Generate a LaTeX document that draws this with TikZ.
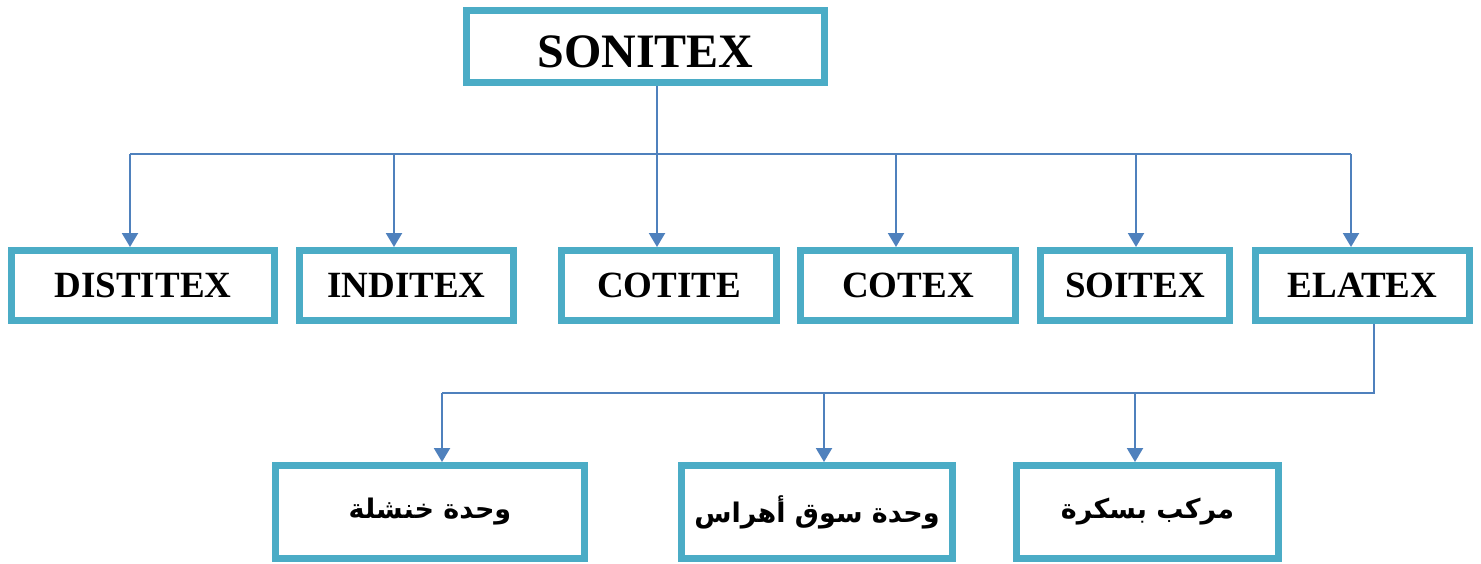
\documentclass[tikz,border=0pt]{standalone}
\usepackage{fontspec}
\setmainfont{Liberation Serif}
\newfontfamily\arabicfont[Script=Arabic]{DejaVu Sans}
\TeXXeTstate=1
\usetikzlibrary{arrows.meta}
\definecolor{boxcol}{HTML}{4BACC6}
\definecolor{linecol}{HTML}{4F81BD}
\tikzset{
  orgbox/.style={draw=boxcol, line width=7pt, fill=white, rectangle, inner sep=0pt, font=\bfseries},
  conn/.style={draw=linecol, line width=2.2pt},
  arr/.style={conn, -{Triangle[width=16pt,length=14pt]}},
}
\begin{document}
\begin{tikzpicture}[x=1pt,y=-1pt]
\useasboundingbox (0,0) rectangle (1481,563);
% top
\node[orgbox, minimum width=358pt, minimum height=72pt, font=\bfseries\fontsize{48pt}{50pt}\selectfont, text height=42pt, text depth=0pt] (soni) at (645.5,46.5) {SONITEX};
% row 2
\tikzset{r2/.style={orgbox, minimum height=70pt, font=\bfseries\fontsize{37pt}{40pt}\selectfont}}
\node[r2, minimum width=263pt] (dist) at (143,285.5) {DISTITEX};
\node[r2, minimum width=214pt] (indi) at (406.5,285.5) {INDITEX};
\node[r2, minimum width=215pt] (coti) at (669,285.5) {COTITE};
\node[r2, minimum width=215pt] (cotex) at (908,285.5) {COTEX};
\node[r2, minimum width=189pt] (soit) at (1135,285.5) {SOITEX};
\node[r2, minimum width=214pt] (ela) at (1362.5,285.5) {ELATEX};
% row 3
\tikzset{r3/.style={orgbox, minimum height=93pt, font=\arabicfont\bfseries\fontsize{27pt}{32pt}\selectfont}}
\node[r3, minimum width=309pt] (khen) at (430,512) {\beginR وحدة خنشلة\endR};
\node[r3, minimum width=271pt] (souk) at (817,512) {\beginR وحدة سوق أهراس\endR};
\node[r3, minimum width=262pt] (bisk) at (1147.5,512) {\beginR مركب بسكرة\endR};
% bus 1
\coordinate (stem) at (657,154);
\coordinate (bL) at (130,154);
\coordinate (bR) at (1351,154);
\coordinate (b2) at (394,154);
\coordinate (b3) at (657,154);
\coordinate (b4) at (896,154);
\coordinate (b5) at (1136,154);
\draw[conn] (stem |- soni.south) -- (stem);
\draw[conn] (bL) -- (bR);
\draw[arr] (bL) -- (bL |- dist.north);
\draw[arr] (b2) -- (b2 |- indi.north);
\draw[arr] (b3) -- (b3 |- coti.north);
\draw[arr] (b4) -- (b4 |- cotex.north);
\draw[arr] (b5) -- (b5 |- soit.north);
\draw[arr] (bR) -- (bR |- ela.north);
% bus 2
\coordinate (e1) at (1374,393);
\coordinate (c1) at (442,393);
\coordinate (c2) at (824,393);
\coordinate (c3) at (1135,393);
\draw[conn] (e1 |- ela.south) -- (e1) -- (c1);
\draw[arr] (c1) -- (c1 |- khen.north);
\draw[arr] (c2) -- (c2 |- souk.north);
\draw[arr] (c3) -- (c3 |- bisk.north);
\end{tikzpicture}
\end{document}
